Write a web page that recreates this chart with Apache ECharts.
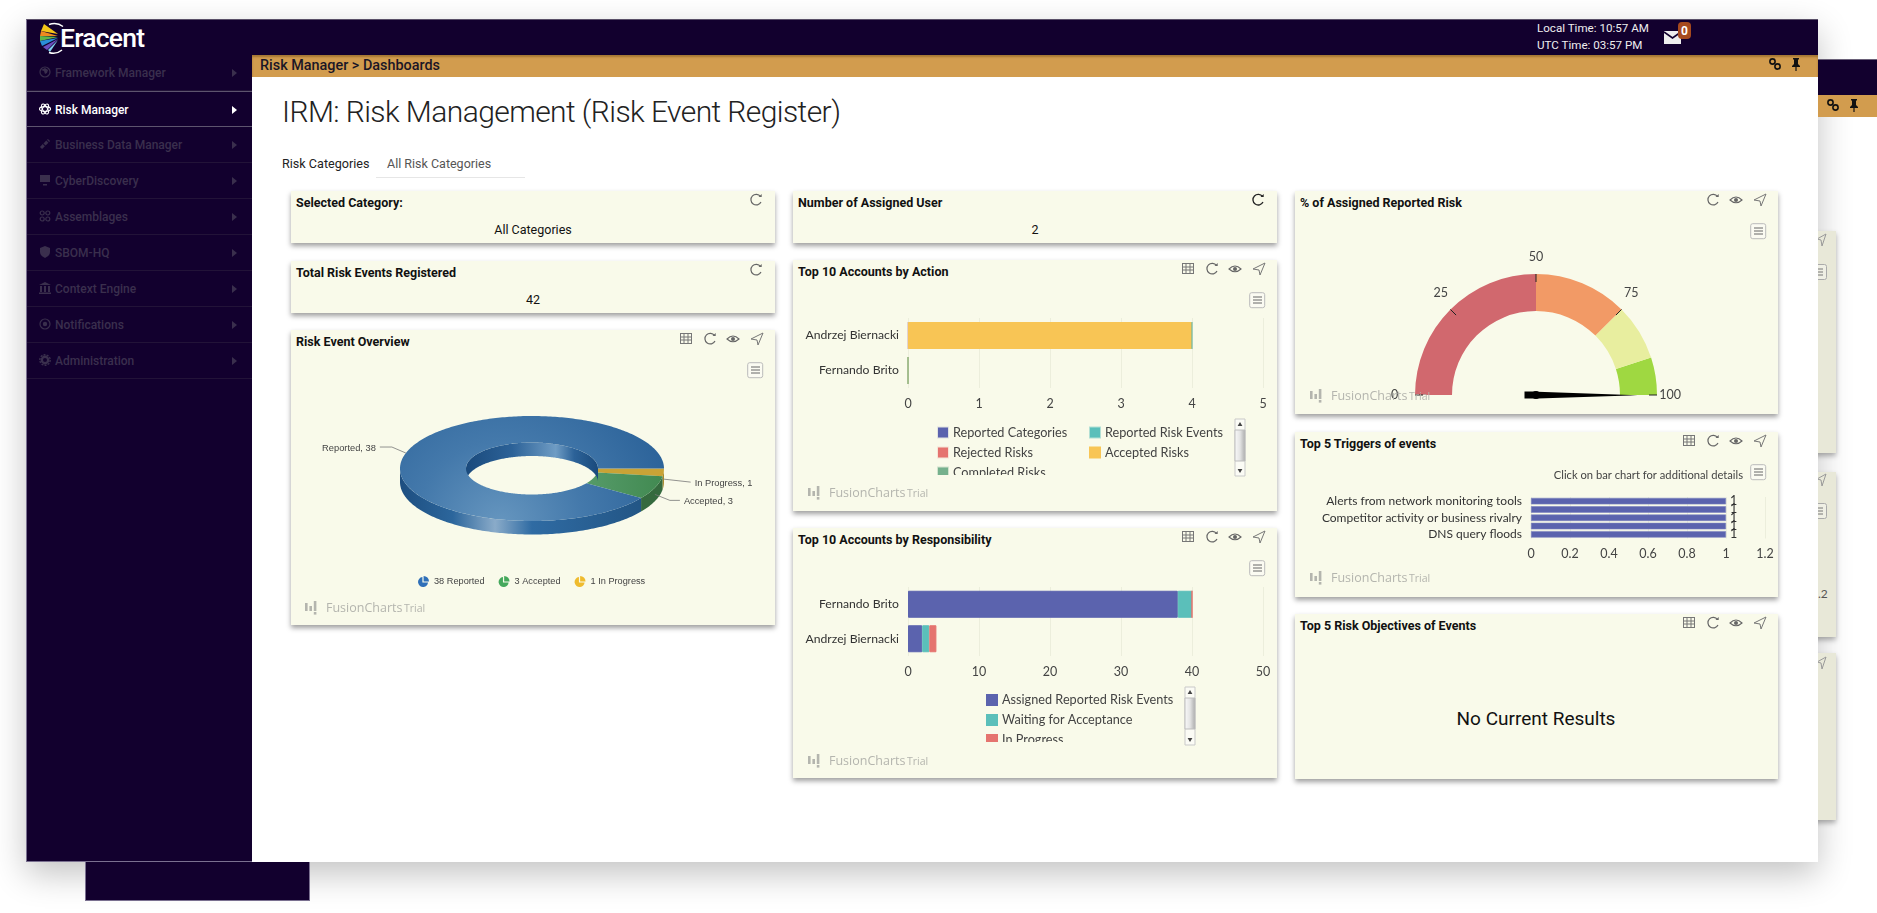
<!DOCTYPE html>
<html><head><meta charset="utf-8"><title>IRM: Risk Management</title>
<script src="https://cdn.jsdelivr.net/npm/echarts@6/dist/echarts.min.js"></script>
<style>
html,body{margin:0;padding:0;width:1877px;height:913px;overflow:hidden;background:#fff;font-family:Roboto,sans-serif}
.abs{position:absolute}
.nav{position:absolute;left:27px;width:225px;height:36px;border-bottom:1px solid #221338;color:#3a2f4d;font:500 12px/36px Roboto;box-sizing:border-box}
.nav span{position:absolute;left:28px;top:0}
.nav svg.ic{position:absolute;left:12px;top:11px}
.nav svg.ar{position:absolute;left:205px;top:14px}
.nav.on{color:#fff;border-bottom:1px solid #5d546e;border-top:1px solid #5d546e;background:#12002e}
.card{position:absolute;background:#f9faea;box-shadow:0 3px 5px rgba(0,0,0,.38)}
.card b{position:absolute;left:5px;top:3px;font:700 12.5px/17px Roboto;color:#111;white-space:nowrap}
.val{position:absolute;font:400 12.5px/16px Roboto;color:#111;transform:translate(-50%,-50%);white-space:nowrap}
.i{position:absolute}
.back{position:absolute;background:#e8e8d8;box-shadow:0 3px 5px rgba(0,0,0,.3)}
#chart{position:absolute;left:0;top:0;width:1877px;height:913px;z-index:5}
</style></head><body>
<div class="abs" id="frontShadow" style="left:26px;top:19px;width:1792px;height:843px;background:#fff;box-shadow:0 12px 32px rgba(0,0,0,.24)"></div>
<div class="abs" style="left:85px;top:59px;width:225px;height:842px;background:#12002e;border:1px solid #7a7090;border-top:0;box-sizing:border-box"></div>
<div class="abs" style="left:1818px;top:59px;width:59px;height:36px;background:#12002e;border-top:1px solid #6a6078;box-sizing:border-box"></div>
<div class="abs" style="left:1818px;top:95px;width:59px;height:22px;background:#d29c4e"></div>
<div class="back" style="left:1800px;top:231px;width:36px;height:222px"></div>
<div class="back" style="left:1800px;top:472px;width:36px;height:165px"></div>
<div class="back" style="left:1800px;top:653px;width:36px;height:167px"></div>
<div class="abs" style="left:1818px;top:586px;font:400 12px/16px Lato;color:#555">.2</div>
<svg class="abs" style="left:1817px;top:233px" width="10" height="14"><path d="M9 1L0 6l4 1 1 6z" fill="none" stroke="#999"/></svg>
<svg class="abs" style="left:1817px;top:473px" width="10" height="14"><path d="M9 1L0 6l4 1 1 6z" fill="none" stroke="#999"/></svg>
<svg class="abs" style="left:1817px;top:656px" width="10" height="14"><path d="M9 1L0 6l4 1 1 6z" fill="none" stroke="#999"/></svg>
<svg class="abs" style="left:1818px;top:264px" width="9" height="16"><path d="M0 .5h6.5q2 0 2 2v11q0 2-2 2H0" fill="#efefe4" stroke="#aaa"/><path d="M0 5h5M0 8h5M0 11h5" stroke="#777"/></svg>
<svg class="abs" style="left:1818px;top:503px" width="9" height="16"><path d="M0 .5h6.5q2 0 2 2v11q0 2-2 2H0" fill="#efefe4" stroke="#aaa"/><path d="M0 5h5M0 8h5M0 11h5" stroke="#777"/></svg>
<div class="abs" style="left:26px;top:19px;width:1792px;height:843px;background:#fff"></div>
<div class="abs" style="left:26px;top:19px;width:1792px;height:36px;background:#12002e;border-top:1px solid #5a5068;border-left:1px solid #7a7090;box-sizing:border-box"></div>
<div class="abs" style="left:26px;top:55px;width:226px;height:807px;background:#12002e;border:1px solid #7a7090;border-width:0 0 1px 1px;box-sizing:border-box"></div>
<div class="abs" style="left:252px;top:55px;width:1566px;height:22px;background:#d29c4e;box-shadow:inset 0 2px 2px rgba(80,50,0,.35)"></div>
<svg class="abs" style="left:38px;top:22px" width="26" height="33" viewBox="0 0 26 33">
<path d="M20 12 L6 2 L3 9Z" fill="#f5c518"/><path d="M20 14 L3 9 L2 14Z" fill="#ef8a1f"/><path d="M20 15 L2 14 L2 19Z" fill="#5fb54a"/><path d="M20 16 L2 19 L4 24Z" fill="#2a8fd8"/><path d="M20 17 L5 25 L9 28Z" fill="#6a4fc0"/><path d="M20 18 L10 28 L12 30Z" fill="#7fd0f0"/>
<path d="M11 2.5 Q19 0 25 4.5" stroke="#fff" stroke-width="1.5" fill="none"/><path d="M11 30.5 Q18 33 24 28" stroke="#fff" stroke-width="1.5" fill="none"/></svg>
<div class="abs" style="left:60px;top:23px;font:500 26.5px/30px Roboto;color:#fff;letter-spacing:-.8px">Eracent</div>
<div class="abs" style="left:260px;top:57px;font:500 14.4px/18px Roboto;color:#1a1626">Risk Manager &gt; Dashboards</div>
<div class="abs" style="left:1537px;top:20px;font:400 11.6px/17px Roboto;color:#eee">Local Time: 10:57 AM<br>UTC Time: 03:57 PM</div>
<svg class="abs" style="left:1664px;top:21px" width="28" height="24"><path d="M0 10h17v13H0z" fill="#eee"/><path d="M0 11l8.5 6 8.5-6" stroke="#12002e" stroke-width="1.6" fill="none"/><rect x="14" y="1" width="13" height="17" rx="4" fill="#a64a1e"/><text x="20.5" y="14" font-family="Roboto" font-weight="700" font-size="12" text-anchor="middle" fill="#fff">0</text></svg>
<svg class="abs" style="left:1769px;top:58px" width="12" height="12"><g fill="none" stroke="#111" stroke-width="1.6"><circle cx="3.5" cy="3.5" r="2.6"/><circle cx="8.5" cy="8.5" r="2.6"/></g></svg>
<svg class="abs" style="left:1791px;top:58px" width="10" height="13"><path d="M2 0h6v1l-1 1v4l2 2v1H5.6v4h-1.2V9H1V8l2-2V2L2 1z" fill="#111"/></svg>
<svg class="abs" style="left:1827px;top:99px" width="12" height="12"><g fill="none" stroke="#111" stroke-width="1.6"><circle cx="3.5" cy="3.5" r="2.6"/><circle cx="8.5" cy="8.5" r="2.6"/></g></svg>
<svg class="abs" style="left:1849px;top:99px" width="10" height="13"><path d="M2 0h6v1l-1 1v4l2 2v1H5.6v4h-1.2V9H1V8l2-2V2L2 1z" fill="#111"/></svg>
<div id="navs"></div>
<div class="abs" style="left:282px;top:92px;font:300 30px/40px Roboto;color:#222;white-space:nowrap;letter-spacing:-.58px">IRM: Risk Management (Risk Event Register)</div>
<div class="abs" style="left:282px;top:156px;font:400 12.6px/16px Roboto;color:#222">Risk Categories</div>
<div class="abs" style="left:387px;top:156px;font:400 12.5px/16px Roboto;color:#555">All Risk Categories</div>
<div class="abs" style="left:376px;top:177px;width:149px;height:1px;background:#e6e6e6"></div>
<div id="cards"></div>
<div id="chart"></div>
<script>
// ---- data ----
const riskNames = ['In Progress', 'Accepted', 'Reported'];
const riskValues = [1, 3, 38];
const legendOrder = ['Reported', 'Accepted', 'In Progress'];

const actionCategories = ['Andrzej Biernacki', 'Fernando Brito'];
const actionReportedCategories = [0, 0];
const actionRejected = [0, 0];
const actionAccepted = [4, 0];
const actionReportedEvents = [0, 0];
const actionCompleted = [0, 0];

const respCategories = ['Fernando Brito', 'Andrzej Biernacki'];
const respAssigned = [38, 2];
const respWaiting = [2, 1];
const respInProgress = [0, 1];

const triggerCategories = ['Alerts from network monitoring tools', ' ', 'Competitor activity or business rivalry', '  ', 'DNS query floods'];
const triggerValues = [1, 1, 1, 1, 1];

const gaugeValue = 100;
const gaugeBands = [[0.5, '#d1686e'], [0.75, '#f29a66'], [0.9, '#e8ee9f'], [1, '#9fd841']];

// ---- chrome ----
const navItems = ['Framework Manager', 'Risk Manager', 'Business Data Manager', 'CyberDiscovery', 'Assemblages', 'SBOM-HQ', 'Context Engine', 'Notifications', 'Administration'];
const navIcons = [
  '<circle cx="6" cy="6" r="5" fill="none" stroke="currentColor" stroke-width="1.2"/><path d="M2 4l3 1 1 3 2-1 1-3-3-2z" fill="currentColor"/>',
  '<g fill="none" stroke="currentColor" stroke-width="1.1"><ellipse cx="6" cy="6" rx="5.5" ry="2.4"/><ellipse cx="6" cy="6" rx="5.5" ry="2.4" transform="rotate(60 6 6)"/><ellipse cx="6" cy="6" rx="5.5" ry="2.4" transform="rotate(120 6 6)"/></g>',
  '<path d="M2 10L10 2" stroke="currentColor" stroke-width="3" stroke-dasharray="4 1"/>',
  '<path d="M1 1h10v7H1zM4 10h4v1.5H4z" fill="currentColor"/>',
  '<g fill="none" stroke="currentColor" stroke-width="1.2"><circle cx="3.2" cy="3" r="2"/><circle cx="8.8" cy="3" r="2"/><circle cx="3.2" cy="9" r="2"/><circle cx="8.8" cy="9" r="2"/></g>',
  '<path d="M6 0l5 2v4q0 4-5 6-5-2-5-6V2z" fill="currentColor"/>',
  '<path d="M6 0l6 3H0zM1 4h2v6H1zM5 4h2v6H5zM9 4h2v6H9zM0 10.5h12V12H0z" fill="currentColor"/>',
  '<circle cx="6" cy="6" r="5" fill="none" stroke="currentColor" stroke-width="1.2"/><circle cx="6" cy="6" r="2.2" fill="currentColor"/>',
  '<circle cx="6" cy="6" r="3.2" fill="none" stroke="currentColor" stroke-width="2.4"/><circle cx="6" cy="6" r="5.2" fill="none" stroke="currentColor" stroke-width="1.4" stroke-dasharray="2 1.2"/>'
];
document.getElementById('navs').innerHTML = navItems.map((n, i) => {
  const on = i === 1;
  return `<div class="nav${on ? ' on' : ''}" style="top:${55 + 36 * i}px"><svg class="ic" width="12" height="12" style="color:${on ? '#fff' : '#3a2f4d'}">${navIcons[i]}</svg><span>${n}</span><svg class="ar" width="5" height="8"><path d="M0 0l5 4-5 4z" fill="${on ? '#fff' : '#3a2f4d'}"/></svg></div>`;
}).join('');

const ICON = {
  table: '<g fill="none" stroke="#777" stroke-width="1"><rect x="1.5" y="1.5" width="11" height="10"/><path d="M1.5 5h11M1.5 8h11M5 1.5v10M9 1.5v10"/></g>',
  refresh: '<path d="M11.5 3.5A5.3 5.3 0 1 0 12 9" fill="none" stroke="#666" stroke-width="1.2"/><path d="M9.5 4h3.2V1z" fill="#666"/>',
  refreshB: '<path d="M11.5 3.5A5.3 5.3 0 1 0 12 9" fill="none" stroke="#222" stroke-width="1.3"/><path d="M9.5 4h3.2V1z" fill="#222"/>',
  eye: '<path d="M1 7Q7 1 13 7Q7 12.5 1 7Z" fill="none" stroke="#666" stroke-width="1.1"/><circle cx="7" cy="7" r="2" fill="#666"/>',
  plane: '<path d="M13 1L1 7l6 1 1 5z" fill="none" stroke="#777" stroke-width="1"/>'
};
const cards = [
  {t: 'Selected Category:', x: 291, y: 191, w: 484, h: 52, v: 'All Categories', ic: ['refresh']},
  {t: 'Total Risk Events Registered', x: 291, y: 261, w: 484, h: 52, v: '42', ic: ['refresh']},
  {t: 'Risk Event Overview', x: 291, y: 330, w: 484, h: 295, ic: ['table', 'refresh', 'eye', 'plane'], menu: 1},
  {t: 'Number of Assigned User', x: 793, y: 191, w: 484, h: 52, v: '2', ic: ['refreshB']},
  {t: 'Top 10 Accounts by Action', x: 793, y: 260, w: 484, h: 251, ic: ['table', 'refresh', 'eye', 'plane'], menu: 1},
  {t: 'Top 10 Accounts by Responsibility', x: 793, y: 528, w: 484, h: 250, ic: ['table', 'refresh', 'eye', 'plane'], menu: 1},
  {t: '% of Assigned Reported Risk', x: 1295, y: 191, w: 483, h: 223, ic: ['refresh', 'eye', 'plane'], menu: 1},
  {t: 'Top 5 Triggers of events', x: 1295, y: 432, w: 483, h: 165, ic: ['table', 'refresh', 'eye', 'plane'], menu: 1},
  {t: 'Top 5 Risk Objectives of Events', x: 1295, y: 614, w: 483, h: 165, ic: ['table', 'refresh', 'eye', 'plane']}
];
const menuSvg = '<svg class="i" width="17" height="17" style="left:{L}px;top:{T}px"><rect x=".7" y=".7" width="15" height="15" rx="2" fill="#fbfbf2" stroke="#bbb"/><path d="M4 5h9M4 8h9M4 11h9" stroke="#666"/></svg>';
document.getElementById('cards').innerHTML = cards.map(c => {
  const right = c.x + c.w;
  const slots = {plane: right - 25, eye: right - 49, refresh: right - 72, refreshB: right - 26, table: right - 96};
  const singleRefresh = c.ic.length === 1;
  let h = `<div class="card" style="left:${c.x}px;top:${c.y}px;width:${c.w}px;height:${c.h}px"><b>${c.t}</b>`;
  if (c.v) h += `<div class="val" style="left:${c.w / 2}px;top:${38.5}px">${c.v}</div>`;
  c.ic.forEach(k => {
    const l = (singleRefresh ? right - 26 : slots[k]) - c.x;
    h += `<svg class="i" width="14" height="14" style="left:${l}px;top:2px">${ICON[k]}</svg>`;
  });
  if (c.menu) h += menuSvg.replace('{L}', c.w - 28).replace('{T}', 32);
  if (c.t.indexOf('Objectives') > 0) h += '<div class="val" style="left:241px;top:105px;font-size:19px;line-height:24px">No Current Results</div>';
  return h + '</div>';
}).join('');

// ---- donut drawn through a custom series, geometry derived from the values ----
const donut = {cx: 532, cy: 468.5, rx: 132, ry: 52.5, irx: 66, iry: 26, depth: 13.5};
const riskTotal = riskValues.reduce((a, b) => a + b, 0);
const rad = d => d * Math.PI / 180;
function arcPts(rx, ry, a0, a1, dy) {
  const pts = [], n = Math.max(2, Math.ceil(Math.abs(a1 - a0)));
  for (let i = 0; i <= n; i++) {
    const a = rad(a0 + (a1 - a0) * i / n);
    pts.push([donut.cx + rx * Math.cos(a), donut.cy + dy + ry * Math.sin(a)]);
  }
  return pts;
}
const sliceStyle = {
  'Reported': {
    top: {type: 'radial', x: 500, y: 525, r: 185, global: true, colorStops: [{offset: 0, color: '#6696bf'}, {offset: .45, color: '#4479ab'}, {offset: 1, color: '#2a6198'}]},
    wall: {type: 'linear', x: 400, y: 0, x2: 664, y2: 0, global: true, colorStops: [{offset: 0, color: '#1d4e80'}, {offset: .2, color: '#2c669c'}, {offset: .36, color: '#8aabc9'}, {offset: .5, color: '#2f6ba3'}, {offset: 1, color: '#20517f'}]},
    inner: {type: 'linear', x: 466, y: 0, x2: 598, y2: 0, global: true, colorStops: [{offset: 0, color: '#1a4a7c'}, {offset: .35, color: '#2c6298'}, {offset: .68, color: '#6f9cc4'}, {offset: .82, color: '#2c6298'}, {offset: 1, color: '#1a4a7c'}]},
    legend: '#2f6fb8'
  },
  'Accepted': {top: {type: 'linear', x: 590, y: 0, x2: 660, y2: 0, global: true, colorStops: [{offset: 0, color: '#559a68'}, {offset: 1, color: '#428a52'}]}, wall: '#356a3e', legend: '#45a85c'},
  'In Progress': {top: '#c9a336', wall: '#a88a2c', legend: '#efbb2e'}
};
const labelRoute = {
  'Reported': {side: -1, pts: [[-14, -6], [-26, -6]], dy: 0},
  'Accepted': {side: 1, pts: [[15, 6], [25, 6]], dy: 6.7},
  'In Progress': {side: 1, pts: [[27, 3]], dy: 6.7}
};
function renderSlice(name) {
  const idx = riskNames.indexOf(name);
  const v = riskValues[idx];
  const a0 = riskValues.slice(0, idx).reduce((a, b) => a + b, 0) / riskTotal * 360;
  const a1 = a0 + v / riskTotal * 360;
  const st = sliceStyle[name], D = donut;
  const kids = [];
  const iA = Math.max(a0, 180), iB = Math.min(a1, 360);
  if (iB > iA) {
    kids.push({type: 'polygon', shape: {points: arcPts(D.irx, D.iry, iA, iB, 0).concat(arcPts(D.irx, D.iry, iB, iA, D.depth))}, style: {fill: st.inner || st.wall}});
  }
  const oA = Math.max(a0, 0), oB = Math.min(a1, 180);
  if (oB > oA) {
    kids.push({type: 'polygon', shape: {points: arcPts(D.rx, D.ry, oA, oB, 0).concat(arcPts(D.rx, D.ry, oB, oA, D.depth))}, style: {fill: st.wall}});
  }
  kids.push({type: 'polygon', shape: {points: arcPts(D.rx, D.ry, a0, a1, 0).concat(arcPts(D.irx, D.iry, a1, a0, 0))}, style: {fill: st.top}});
  const mid = rad((a0 + a1) / 2), r = labelRoute[name];
  const px = D.cx + D.rx * Math.cos(mid), py = D.cy + r.dy + D.ry * Math.sin(mid);
  const line = [[px, py]].concat(r.pts.map(p => [px + p[0], py + p[1]]));
  kids.push({type: 'polyline', shape: {points: line}, style: {stroke: '#777', lineWidth: .8, fill: 'none'}});
  const end = line[line.length - 1];
  kids.push({type: 'text', style: {text: name + ', ' + v, x: end[0] + r.side * 4, y: end[1] + 1, align: r.side < 0 ? 'right' : 'left', verticalAlign: 'middle', fill: '#444', font: '400 9.3px "Liberation Sans"'}});
  return {type: 'group', children: kids};
}
const pieIcon = 'path://M45 8 A42 42 0 1 0 92 55 L45 55 Z M55 0 L55 45 L100 45 A45 45 0 0 0 55 0 Z';
const donutSeries = riskNames.map((n, i) => ({
  type: 'custom', name: n, coordinateSystem: 'none', data: [riskValues[i]],
  itemStyle: {color: sliceStyle[n].legend}, animation: false, silent: true, clip: false,
  renderItem: () => renderSlice(n)
}));

// ---- shared axis helpers ----
const FONT = 'Lato';
const gridColor = '#eceedc';
function valueAxis(gridIndex, max, interval, margin) {
  return {type: 'value', gridIndex, min: 0, max, interval, position: 'bottom',
    axisLine: {show: false}, axisTick: {show: false},
    splitLine: {lineStyle: {color: gridColor, width: 1}},
    axisLabel: {color: '#444', fontFamily: FONT, fontSize: 12.5, margin, showMinLabel: true, showMaxLabel: true}};
}
function catAxis(gridIndex, data, extra) {
  return {type: 'category', gridIndex, data, inverse: true,
    axisLine: {show: false}, axisTick: {show: false}, splitLine: {show: false},
    axisLabel: Object.assign({color: '#333', fontFamily: FONT, fontSize: 12.2, margin: 9, interval: 0}, extra || {})};
}
function stackBar(name, data, color, idx, stack, sliverColor) {
  return {type: 'bar', name, data, xAxisIndex: idx, yAxisIndex: idx, stack, barWidth: 27, animation: false,
    itemStyle: {color, borderColor: sliverColor || color, borderWidth: 1}};
}
const C = {purple: '#5b63ae', teal: '#5bbfba', salmon: '#e5746f', orange: '#f8c555', green: '#76b18d'};

function watermark(x, y) {
  return [
    {type: 'rect', shape: {x: x, y: y - 4, width: 2.6, height: 8}, style: {fill: '#b4b5ae'}, z: 20},
    {type: 'rect', shape: {x: x + 4.4, y: y - 1, width: 2.6, height: 5}, style: {fill: '#b4b5ae'}, z: 20},
    {type: 'rect', shape: {x: x + 8.8, y: y - 6, width: 2.6, height: 10}, style: {fill: '#b4b5ae'}, z: 20},
    {type: 'rect', shape: {x: x + 8.8, y: y + 5, width: 2.6, height: 2.6}, style: {fill: '#b4b5ae'}, z: 20},
    {type: 'text', style: {text: 'FusionCharts', x: x + 21, y: y + 1, verticalAlign: 'middle', fill: '#b4b5ae', font: '500 12.5px "Open Sans"'}, z: 20},
    {type: 'text', style: {text: 'Trial', x: x + 99, y: y + 2, verticalAlign: 'middle', fill: '#b4b5ae', font: '500 10.5px "Open Sans"'}, z: 20}
  ];
}
function scrollbar(x, y, h, thumbY, thumbH) {
  return [
    {type: 'rect', shape: {x, y, width: 10, height: h}, style: {fill: '#fbfbf5', stroke: '#c9c9c9', lineWidth: 1}, z: 21},
    {type: 'rect', shape: {x, y: thumbY, width: 10, height: thumbH}, style: {fill: {type: 'linear', x: 0, y: 0, x2: 1, y2: 0, colorStops: [{offset: 0, color: '#fafafa'}, {offset: .5, color: '#e4e4e4'}, {offset: 1, color: '#a9a9a9'}]}, stroke: '#bdbdbd', lineWidth: 1}, z: 22},
    {type: 'polygon', shape: {points: [[x + 5, y + 3], [x + 2.6, y + 7], [x + 7.4, y + 7]]}, style: {fill: '#444'}, z: 22},
    {type: 'polygon', shape: {points: [[x + 5, y + h - 3], [x + 2.6, y + h - 7], [x + 7.4, y + h - 7]]}, style: {fill: '#444'}, z: 22}
  ];
}
function legendMask(x, y, w, h) {
  return {type: 'rect', shape: {x, y, width: w, height: h}, style: {fill: '#f9faea'}, z: 19, zlevel: 0};
}
const legendText = {fontFamily: FONT, fontSize: 12.7, color: '#444'};
function colLegend(left, top, data) {
  return {type: 'plain', orient: 'vertical', left, top, data, itemWidth: 10, itemHeight: 10, itemGap: 7, icon: 'rect', padding: 0, selectedMode: false, textStyle: legendText, z: 4};
}

const chart = echarts.init(document.getElementById('chart'), null, {width: 1877, height: 913});
chart.setOption({
  animation: false,
  backgroundColor: 'transparent',
  title: [{text: 'Click on bar chart for additional details', right: 1877 - 1743, top: 470, padding: 0,
    textStyle: {fontFamily: FONT, fontWeight: 400, fontSize: 11.2, color: '#444'}}],
  grid: [
    {left: 908, top: 318, width: 355, height: 70},
    {left: 908, top: 587, width: 355, height: 69},
    {left: 1531, top: 497, width: 234, height: 41.5}
  ],
  xAxis: [valueAxis(0, 5, 1, 9), valueAxis(1, 50, 10, 9), valueAxis(2, 1.2, 0.2, 9)],
  yAxis: [catAxis(0, actionCategories), catAxis(1, respCategories), catAxis(2, triggerCategories, {interval: 1, fontSize: 12})],
  legend: [
    {type: 'plain', orient: 'horizontal', left: 418, top: 576, itemWidth: 11, itemHeight: 11, itemGap: 14, padding: 0, selectedMode: false,
      data: legendOrder.map(n => ({name: n, icon: pieIcon})),
      formatter: n => riskValues[riskNames.indexOf(n)] + ' ' + n,
      textStyle: {fontFamily: 'Liberation Sans', fontSize: 9.2, color: '#444'}},
    colLegend(937, 426, ['Reported Categories', 'Rejected Risks', 'Completed Risks']),
    colLegend(1089, 426, ['Reported Risk Events', 'Accepted Risks']),
    colLegend(986, 693.5, ['Assigned Reported Risk Events', 'Waiting for Acceptance', 'In Progress '])
  ],
  series: donutSeries.concat([
    stackBar('Reported Categories', actionReportedCategories, C.purple, 0, 'a', 'rgba(91,99,174,.15)'),
    stackBar('Rejected Risks', actionRejected, C.salmon, 0, 'a', 'rgba(229,116,111,.15)'),
    stackBar('Accepted Risks', actionAccepted, C.orange, 0, 'a'),
    stackBar('Reported Risk Events', actionReportedEvents, C.teal, 0, 'a', 'rgba(91,191,186,.45)'),
    stackBar('Completed Risks', actionCompleted, C.green, 0, 'a', 'rgba(118,177,141,.3)'),
    stackBar('Assigned Reported Risk Events', respAssigned, C.purple, 1, 'r'),
    stackBar('Waiting for Acceptance', respWaiting, C.teal, 1, 'r'),
    stackBar('In Progress ', respInProgress, C.salmon, 1, 'r'),
    {type: 'bar', name: 'Triggers', data: triggerValues, xAxisIndex: 2, yAxisIndex: 2, barWidth: 6.5, animation: false,
      itemStyle: {color: C.purple, borderColor: '#7a81bd', borderWidth: .6},
      label: {show: true, position: 'right', distance: 4, color: '#333', fontFamily: FONT, fontSize: 12.5}},
    {type: 'gauge', center: [1536, 395], radius: 121, startAngle: 180, endAngle: 0, min: 0, max: 100, splitNumber: 4, animation: false,
      data: [{value: gaugeValue}],
      axisLine: {lineStyle: {width: 37, color: gaugeBands}},
      axisTick: {show: false},
      splitLine: {distance: -37, length: 8, lineStyle: {color: '#222', width: 1}},
      axisLabel: {distance: 5, color: '#444', fontFamily: FONT, fontSize: 12.5},
      pointer: {icon: 'path://M0 113 L0 102 L4 102 L4 100 L50 0 L51 0 L96 100 L96 113 Z', length: 113, width: 7, offsetCenter: [0, 11.5], itemStyle: {color: '#000'}},
      anchor: {show: true, size: 8, showAbove: true, itemStyle: {color: '#000', borderWidth: 0}},
      title: {show: false}, detail: {show: false}}
  ]),
  graphic: [
    legendMask(930, 475, 300, 12),
    legendMask(980, 742, 200, 12)
  ].concat(
    watermark(305, 607), watermark(808, 492), watermark(808, 760), watermark(1310, 395), watermark(1310, 577),
    scrollbar(1235, 419, 57, 430, 31), scrollbar(1185, 687, 58, 698, 31)
  )
});
</script>
</body></html>
